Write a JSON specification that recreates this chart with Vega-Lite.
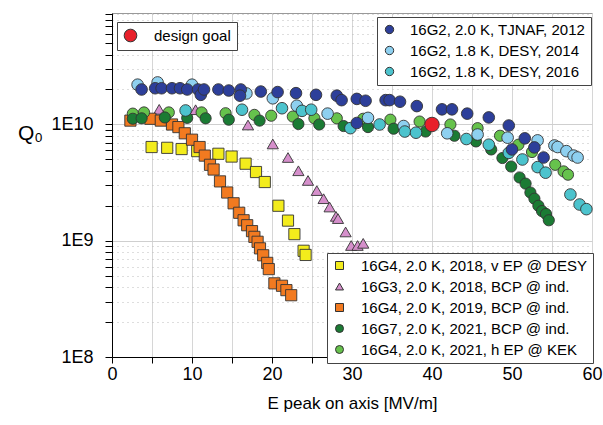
{
  "$schema": "https://vega.github.io/schema/vega-lite/v6.json",
  "width": 480,
  "height": 344,
  "autosize": {"type": "none"},
  "padding": {"left": 112, "top": 13, "right": 11, "bottom": 68},
  "config": {
    "font": "Liberation Sans",
    "view": {"stroke": "#999", "strokeWidth": 1},
    "legend": {"labelLimit": 320}
  },
  "datasets": {
    "goal": [{"s": "design goal", "E": 40, "Q": 10000000000}],
    "groupA": [
      {"s": "16G2, 1.8 K, DESY, 2014", "E": 3.2, "Q": 2.2e10},
      {"s": "16G2, 1.8 K, DESY, 2014", "E": 5.7, "Q": 2.3e10},
      {"s": "16G2, 1.8 K, DESY, 2014", "E": 10.0, "Q": 2.2e10},
      {"s": "16G2, 1.8 K, DESY, 2014", "E": 16.8, "Q": 1.85e10},
      {"s": "16G2, 1.8 K, DESY, 2014", "E": 20.1, "Q": 1.68e10},
      {"s": "16G2, 1.8 K, DESY, 2014", "E": 23.1, "Q": 1.45e10},
      {"s": "16G2, 1.8 K, DESY, 2014", "E": 26.95, "Q": 1.24e10},
      {"s": "16G2, 1.8 K, DESY, 2014", "E": 32.0, "Q": 1.14e10},
      {"s": "16G2, 1.8 K, DESY, 2014", "E": 36.45, "Q": 9.7e9},
      {"s": "16G2, 1.8 K, DESY, 2014", "E": 41.9, "Q": 8.4e9},
      {"s": "16G2, 1.8 K, DESY, 2014", "E": 45.7, "Q": 8.2e9},
      {"s": "16G2, 1.8 K, DESY, 2014", "E": 49.45, "Q": 7.7e9},
      {"s": "16G2, 1.8 K, DESY, 2014", "E": 53.2, "Q": 7.3e9},
      {"s": "16G2, 1.8 K, DESY, 2014", "E": 55.3, "Q": 6.6e9},
      {"s": "16G2, 1.8 K, DESY, 2014", "E": 55.7, "Q": 6.4e9},
      {"s": "16G2, 1.8 K, DESY, 2014", "E": 56.8, "Q": 5.9e9},
      {"s": "16G2, 1.8 K, DESY, 2014", "E": 57.7, "Q": 5.4e9},
      {"s": "16G2, 1.8 K, DESY, 2014", "E": 58.2, "Q": 5.2e9},
      {"s": "16G2, 1.8 K, DESY, 2016", "E": 9.2, "Q": 1.32e10},
      {"s": "16G2, 1.8 K, DESY, 2016", "E": 16.25, "Q": 1.34e10},
      {"s": "16G2, 1.8 K, DESY, 2016", "E": 21.25, "Q": 1.38e10},
      {"s": "16G2, 1.8 K, DESY, 2016", "E": 23.75, "Q": 1.31e10},
      {"s": "16G2, 1.8 K, DESY, 2016", "E": 24.9, "Q": 1.34e10},
      {"s": "16G2, 1.8 K, DESY, 2016", "E": 29.8, "Q": 9.3e9},
      {"s": "16G2, 1.8 K, DESY, 2016", "E": 33.45, "Q": 1.0e10},
      {"s": "16G2, 1.8 K, DESY, 2016", "E": 36.6, "Q": 8.7e9},
      {"s": "16G2, 1.8 K, DESY, 2016", "E": 38.0, "Q": 8.5e9},
      {"s": "16G2, 1.8 K, DESY, 2016", "E": 44.3, "Q": 7.5e9},
      {"s": "16G2, 1.8 K, DESY, 2016", "E": 47.1, "Q": 6.7e9},
      {"s": "16G2, 1.8 K, DESY, 2016", "E": 49.6, "Q": 5.7e9},
      {"s": "16G2, 1.8 K, DESY, 2016", "E": 51.3, "Q": 5.0e9},
      {"s": "16G2, 1.8 K, DESY, 2016", "E": 53.2, "Q": 4.3e9},
      {"s": "16G2, 1.8 K, DESY, 2016", "E": 54.2, "Q": 3.85e9},
      {"s": "16G2, 1.8 K, DESY, 2016", "E": 57.3, "Q": 2.5e9},
      {"s": "16G2, 1.8 K, DESY, 2016", "E": 58.45, "Q": 2.05e9},
      {"s": "16G2, 1.8 K, DESY, 2016", "E": 59.3, "Q": 1.87e9},
      {"s": "16G2, 2.0 K, TJNAF, 2012", "E": 3.7, "Q": 2.0e10},
      {"s": "16G2, 2.0 K, TJNAF, 2012", "E": 5.4, "Q": 2.05e10},
      {"s": "16G2, 2.0 K, TJNAF, 2012", "E": 6.2, "Q": 2.05e10},
      {"s": "16G2, 2.0 K, TJNAF, 2012", "E": 7.5, "Q": 2.05e10},
      {"s": "16G2, 2.0 K, TJNAF, 2012", "E": 8.5, "Q": 2.05e10},
      {"s": "16G2, 2.0 K, TJNAF, 2012", "E": 9.4, "Q": 2.0e10},
      {"s": "16G2, 2.0 K, TJNAF, 2012", "E": 10.75, "Q": 2.0e10},
      {"s": "16G2, 2.0 K, TJNAF, 2012", "E": 11.1, "Q": 1.8e10},
      {"s": "16G2, 2.0 K, TJNAF, 2012", "E": 11.5, "Q": 2.0e10},
      {"s": "16G2, 2.0 K, TJNAF, 2012", "E": 13.3, "Q": 2.0e10},
      {"s": "16G2, 2.0 K, TJNAF, 2012", "E": 14.6, "Q": 1.96e10},
      {"s": "16G2, 2.0 K, TJNAF, 2012", "E": 16.1, "Q": 2.0e10},
      {"s": "16G2, 2.0 K, TJNAF, 2012", "E": 16.0, "Q": 1.77e10},
      {"s": "16G2, 2.0 K, TJNAF, 2012", "E": 18.6, "Q": 1.92e10},
      {"s": "16G2, 2.0 K, TJNAF, 2012", "E": 20.7, "Q": 1.9e10},
      {"s": "16G2, 2.0 K, TJNAF, 2012", "E": 23.0, "Q": 1.86e10},
      {"s": "16G2, 2.0 K, TJNAF, 2012", "E": 25.5, "Q": 1.8e10},
      {"s": "16G2, 2.0 K, TJNAF, 2012", "E": 28.1, "Q": 1.77e10},
      {"s": "16G2, 2.0 K, TJNAF, 2012", "E": 28.7, "Q": 1.62e10},
      {"s": "16G2, 2.0 K, TJNAF, 2012", "E": 30.6, "Q": 1.66e10},
      {"s": "16G2, 2.0 K, TJNAF, 2012", "E": 31.7, "Q": 1.6e10},
      {"s": "16G2, 2.0 K, TJNAF, 2012", "E": 30.6, "Q": 1.03e10},
      {"s": "16G2, 2.0 K, TJNAF, 2012", "E": 34.2, "Q": 1.62e10},
      {"s": "16G2, 2.0 K, TJNAF, 2012", "E": 34.7, "Q": 1.62e10},
      {"s": "16G2, 2.0 K, TJNAF, 2012", "E": 36.0, "Q": 1.57e10},
      {"s": "16G2, 2.0 K, TJNAF, 2012", "E": 38.1, "Q": 1.44e10},
      {"s": "16G2, 2.0 K, TJNAF, 2012", "E": 41.25, "Q": 1.35e10},
      {"s": "16G2, 2.0 K, TJNAF, 2012", "E": 42.5, "Q": 1.35e10},
      {"s": "16G2, 2.0 K, TJNAF, 2012", "E": 44.4, "Q": 1.24e10},
      {"s": "16G2, 2.0 K, TJNAF, 2012", "E": 47.1, "Q": 1.15e10},
      {"s": "16G2, 2.0 K, TJNAF, 2012", "E": 49.6, "Q": 9.8e9},
      {"s": "16G2, 2.0 K, TJNAF, 2012", "E": 51.6, "Q": 7.6e9},
      {"s": "16G2, 2.0 K, TJNAF, 2012", "E": 52.8, "Q": 6.35e9},
      {"s": "16G2, 2.0 K, TJNAF, 2012", "E": 50.0, "Q": 6.1e9},
      {"s": "16G2, 2.0 K, TJNAF, 2012", "E": 53.95, "Q": 5.2e9}
    ],
    "groupB": [
      {"s": "16G4, 2.0 K, 2018, v EP @ DESY", "E": 4.95, "Q": 6.4e9},
      {"s": "16G4, 2.0 K, 2018, v EP @ DESY", "E": 6.9, "Q": 6.3e9},
      {"s": "16G4, 2.0 K, 2018, v EP @ DESY", "E": 8.7, "Q": 6.15e9},
      {"s": "16G4, 2.0 K, 2018, v EP @ DESY", "E": 10.65, "Q": 5.9e9},
      {"s": "16G4, 2.0 K, 2018, v EP @ DESY", "E": 13.3, "Q": 5.6e9},
      {"s": "16G4, 2.0 K, 2018, v EP @ DESY", "E": 14.95, "Q": 5.3e9},
      {"s": "16G4, 2.0 K, 2018, v EP @ DESY", "E": 16.7, "Q": 4.6e9},
      {"s": "16G4, 2.0 K, 2018, v EP @ DESY", "E": 18.0, "Q": 3.9e9},
      {"s": "16G4, 2.0 K, 2018, v EP @ DESY", "E": 19.1, "Q": 3.2e9},
      {"s": "16G4, 2.0 K, 2018, v EP @ DESY", "E": 20.8, "Q": 2.0e9},
      {"s": "16G4, 2.0 K, 2018, v EP @ DESY", "E": 22.0, "Q": 1.49e9},
      {"s": "16G4, 2.0 K, 2018, v EP @ DESY", "E": 22.8, "Q": 1.14e9},
      {"s": "16G4, 2.0 K, 2018, v EP @ DESY", "E": 23.95, "Q": 8.2e8},
      {"s": "16G4, 2.0 K, 2018, v EP @ DESY", "E": 24.2, "Q": 7.55e8},
      {"s": "16G3, 2.0 K, 2018, BCP @ ind.", "E": 5.9, "Q": 1.35e10},
      {"s": "16G3, 2.0 K, 2018, BCP @ ind.", "E": 10.45, "Q": 1.34e10},
      {"s": "16G3, 2.0 K, 2018, BCP @ ind.", "E": 17.0, "Q": 9.9e9},
      {"s": "16G3, 2.0 K, 2018, BCP @ ind.", "E": 20.1, "Q": 6.8e9},
      {"s": "16G3, 2.0 K, 2018, BCP @ ind.", "E": 22.0, "Q": 5.2e9},
      {"s": "16G3, 2.0 K, 2018, BCP @ ind.", "E": 23.3, "Q": 4.0e9},
      {"s": "16G3, 2.0 K, 2018, BCP @ ind.", "E": 24.5, "Q": 3.3e9},
      {"s": "16G3, 2.0 K, 2018, BCP @ ind.", "E": 25.6, "Q": 2.7e9},
      {"s": "16G3, 2.0 K, 2018, BCP @ ind.", "E": 26.45, "Q": 2.3e9},
      {"s": "16G3, 2.0 K, 2018, BCP @ ind.", "E": 27.2, "Q": 1.95e9},
      {"s": "16G3, 2.0 K, 2018, BCP @ ind.", "E": 28.0, "Q": 1.62e9},
      {"s": "16G3, 2.0 K, 2018, BCP @ ind.", "E": 28.25, "Q": 1.55e9},
      {"s": "16G3, 2.0 K, 2018, BCP @ ind.", "E": 29.2, "Q": 1.19e9},
      {"s": "16G3, 2.0 K, 2018, BCP @ ind.", "E": 29.9, "Q": 9.1e8},
      {"s": "16G3, 2.0 K, 2018, BCP @ ind.", "E": 30.7, "Q": 9.1e8},
      {"s": "16G3, 2.0 K, 2018, BCP @ ind.", "E": 31.4, "Q": 9.5e8},
      {"s": "16G4, 2.0 K, 2019, BCP @ ind.", "E": 2.3, "Q": 1.08e10},
      {"s": "16G4, 2.0 K, 2019, BCP @ ind.", "E": 4.8, "Q": 1.12e10},
      {"s": "16G4, 2.0 K, 2019, BCP @ ind.", "E": 6.1, "Q": 1.08e10},
      {"s": "16G4, 2.0 K, 2019, BCP @ ind.", "E": 7.5, "Q": 1.0e10},
      {"s": "16G4, 2.0 K, 2019, BCP @ ind.", "E": 8.3, "Q": 9.5e9},
      {"s": "16G4, 2.0 K, 2019, BCP @ ind.", "E": 9.1, "Q": 8.4e9},
      {"s": "16G4, 2.0 K, 2019, BCP @ ind.", "E": 10.0, "Q": 7.4e9},
      {"s": "16G4, 2.0 K, 2019, BCP @ ind.", "E": 10.95, "Q": 6.4e9},
      {"s": "16G4, 2.0 K, 2019, BCP @ ind.", "E": 11.6, "Q": 5.4e9},
      {"s": "16G4, 2.0 K, 2019, BCP @ ind.", "E": 12.25, "Q": 4.5e9},
      {"s": "16G4, 2.0 K, 2019, BCP @ ind.", "E": 12.7, "Q": 4.1e9},
      {"s": "16G4, 2.0 K, 2019, BCP @ ind.", "E": 13.5, "Q": 3.24e9},
      {"s": "16G4, 2.0 K, 2019, BCP @ ind.", "E": 14.4, "Q": 2.6e9},
      {"s": "16G4, 2.0 K, 2019, BCP @ ind.", "E": 15.2, "Q": 2.1e9},
      {"s": "16G4, 2.0 K, 2019, BCP @ ind.", "E": 15.9, "Q": 1.74e9},
      {"s": "16G4, 2.0 K, 2019, BCP @ ind.", "E": 16.45, "Q": 1.5e9},
      {"s": "16G4, 2.0 K, 2019, BCP @ ind.", "E": 16.9, "Q": 1.36e9},
      {"s": "16G4, 2.0 K, 2019, BCP @ ind.", "E": 17.5, "Q": 1.21e9},
      {"s": "16G4, 2.0 K, 2019, BCP @ ind.", "E": 17.8, "Q": 1.08e9},
      {"s": "16G4, 2.0 K, 2019, BCP @ ind.", "E": 18.2, "Q": 9.8e8},
      {"s": "16G4, 2.0 K, 2019, BCP @ ind.", "E": 18.5, "Q": 8.6e8},
      {"s": "16G4, 2.0 K, 2019, BCP @ ind.", "E": 18.9, "Q": 7.5e8},
      {"s": "16G4, 2.0 K, 2019, BCP @ ind.", "E": 19.4, "Q": 6.45e8},
      {"s": "16G4, 2.0 K, 2019, BCP @ ind.", "E": 19.6, "Q": 5.7e8},
      {"s": "16G4, 2.0 K, 2019, BCP @ ind.", "E": 20.3, "Q": 4.3e8},
      {"s": "16G4, 2.0 K, 2019, BCP @ ind.", "E": 21.25, "Q": 4.1e8},
      {"s": "16G4, 2.0 K, 2019, BCP @ ind.", "E": 21.8, "Q": 3.76e8},
      {"s": "16G4, 2.0 K, 2019, BCP @ ind.", "E": 22.4, "Q": 3.4e8},
      {"s": "16G4, 2.0 K, 2021, h EP @ KEK", "E": 2.6, "Q": 1.24e10},
      {"s": "16G4, 2.0 K, 2021, h EP @ KEK", "E": 4.0, "Q": 1.27e10},
      {"s": "16G4, 2.0 K, 2021, h EP @ KEK", "E": 7.1, "Q": 1.27e10},
      {"s": "16G4, 2.0 K, 2021, h EP @ KEK", "E": 11.2, "Q": 1.27e10},
      {"s": "16G4, 2.0 K, 2021, h EP @ KEK", "E": 14.2, "Q": 1.25e10},
      {"s": "16G4, 2.0 K, 2021, h EP @ KEK", "E": 17.8, "Q": 1.21e10},
      {"s": "16G4, 2.0 K, 2021, h EP @ KEK", "E": 19.9, "Q": 1.19e10},
      {"s": "16G4, 2.0 K, 2021, h EP @ KEK", "E": 22.6, "Q": 1.17e10},
      {"s": "16G4, 2.0 K, 2021, h EP @ KEK", "E": 25.3, "Q": 1.13e10},
      {"s": "16G4, 2.0 K, 2021, h EP @ KEK", "E": 28.1, "Q": 1.13e10},
      {"s": "16G4, 2.0 K, 2021, h EP @ KEK", "E": 31.4, "Q": 1.12e10},
      {"s": "16G4, 2.0 K, 2021, h EP @ KEK", "E": 34.8, "Q": 1.1e10},
      {"s": "16G4, 2.0 K, 2021, h EP @ KEK", "E": 38.45, "Q": 1.06e10},
      {"s": "16G4, 2.0 K, 2021, h EP @ KEK", "E": 42.3, "Q": 1.0e10},
      {"s": "16G4, 2.0 K, 2021, h EP @ KEK", "E": 45.7, "Q": 9.3e9},
      {"s": "16G4, 2.0 K, 2021, h EP @ KEK", "E": 48.5, "Q": 8.0e9},
      {"s": "16G4, 2.0 K, 2021, h EP @ KEK", "E": 50.8, "Q": 6.7e9},
      {"s": "16G4, 2.0 K, 2021, h EP @ KEK", "E": 52.5, "Q": 5.8e9},
      {"s": "16G4, 2.0 K, 2021, h EP @ KEK", "E": 55.4, "Q": 4.5e9},
      {"s": "16G4, 2.0 K, 2021, h EP @ KEK", "E": 56.45, "Q": 3.95e9},
      {"s": "16G4, 2.0 K, 2021, h EP @ KEK", "E": 57.0, "Q": 3.7e9},
      {"s": "16G7, 2.0 K, 2021, BCP @ ind.", "E": 2.6, "Q": 1.12e10},
      {"s": "16G7, 2.0 K, 2021, BCP @ ind.", "E": 3.7, "Q": 1.13e10},
      {"s": "16G7, 2.0 K, 2021, BCP @ ind.", "E": 6.6, "Q": 1.15e10},
      {"s": "16G7, 2.0 K, 2021, BCP @ ind.", "E": 9.4, "Q": 1.14e10},
      {"s": "16G7, 2.0 K, 2021, BCP @ ind.", "E": 11.7, "Q": 1.13e10},
      {"s": "16G7, 2.0 K, 2021, BCP @ ind.", "E": 14.6, "Q": 1.1e10},
      {"s": "16G7, 2.0 K, 2021, BCP @ ind.", "E": 18.45, "Q": 1.08e10},
      {"s": "16G7, 2.0 K, 2021, BCP @ ind.", "E": 23.3, "Q": 1.01e10},
      {"s": "16G7, 2.0 K, 2021, BCP @ ind.", "E": 25.9, "Q": 1.0e10},
      {"s": "16G7, 2.0 K, 2021, BCP @ ind.", "E": 28.95, "Q": 9.7e9},
      {"s": "16G7, 2.0 K, 2021, BCP @ ind.", "E": 32.0, "Q": 9.5e9},
      {"s": "16G7, 2.0 K, 2021, BCP @ ind.", "E": 35.2, "Q": 9.2e9},
      {"s": "16G7, 2.0 K, 2021, BCP @ ind.", "E": 39.2, "Q": 8.7e9},
      {"s": "16G7, 2.0 K, 2021, BCP @ ind.", "E": 42.8, "Q": 8.0e9},
      {"s": "16G7, 2.0 K, 2021, BCP @ ind.", "E": 45.5, "Q": 7.15e9},
      {"s": "16G7, 2.0 K, 2021, BCP @ ind.", "E": 47.4, "Q": 6.1e9},
      {"s": "16G7, 2.0 K, 2021, BCP @ ind.", "E": 48.8, "Q": 5.15e9},
      {"s": "16G7, 2.0 K, 2021, BCP @ ind.", "E": 49.9, "Q": 4.35e9},
      {"s": "16G7, 2.0 K, 2021, BCP @ ind.", "E": 50.95, "Q": 3.5e9},
      {"s": "16G7, 2.0 K, 2021, BCP @ ind.", "E": 51.7, "Q": 3.1e9},
      {"s": "16G7, 2.0 K, 2021, BCP @ ind.", "E": 52.3, "Q": 2.6e9},
      {"s": "16G7, 2.0 K, 2021, BCP @ ind.", "E": 52.8, "Q": 2.3e9},
      {"s": "16G7, 2.0 K, 2021, BCP @ ind.", "E": 53.3, "Q": 2.0e9},
      {"s": "16G7, 2.0 K, 2021, BCP @ ind.", "E": 53.75, "Q": 1.8e9},
      {"s": "16G7, 2.0 K, 2021, BCP @ ind.", "E": 54.25, "Q": 1.7e9},
      {"s": "16G7, 2.0 K, 2021, BCP @ ind.", "E": 54.6, "Q": 1.5e9}
    ]
  },
  "encoding": {
    "x": {
      "field": "E",
      "type": "quantitative",
      "scale": {"domain": [0, 60], "nice": false, "zero": false},
      "axis": {
        "title": "E peak on axis [MV/m]",
        "values": [0, 5, 10, 15, 20, 25, 30, 35, 40, 45, 50, 55, 60],
        "labelExpr": "datum.value % 10 === 0 ? datum.label : ''",
        "grid": true,
        "gridColor": "#d6d6d6",
        "gridWidth": 1,
        "domainColor": "#000",
        "tickColor": "#000",
        "tickSize": 6,
        "labelFontSize": 18,
        "labelColor": "#000",
        "labelPadding": 2,
        "labelFlush": false,
        "titleFontSize": 17,
        "titleColor": "#000",
        "titleFontWeight": "normal",
        "titlePadding": 12
      }
    },
    "y": {
      "field": "Q",
      "type": "quantitative",
      "scale": {"type": "log", "domain": [100000000, 91000000000], "nice": false},
      "axis": {
        "title": "Q₀",
        "values": [100000000, 200000000, 300000000, 400000000, 500000000, 600000000, 700000000, 800000000, 900000000, 1000000000, 2000000000, 3000000000, 4000000000, 5000000000, 6000000000, 7000000000, 8000000000, 9000000000, 10000000000, 20000000000, 30000000000, 40000000000, 50000000000, 60000000000, 70000000000, 80000000000, 90000000000],
        "labelExpr": "datum.value === 100000000 ? '1E8' : datum.value === 1000000000 ? '1E9' : datum.value === 10000000000 ? '1E10' : ''",
        "grid": true,
        "gridColor": {"condition": {"test": "datum.value === 100000000 || datum.value === 1000000000 || datum.value === 10000000000", "value": "#cfcfcf"}, "value": "#bdbdbd"},
        "gridDash": {"condition": {"test": "datum.value === 100000000 || datum.value === 1000000000 || datum.value === 10000000000", "value": []}, "value": [1, 4]},
        "domainColor": "#000",
        "tickColor": "#000",
        "tickSize": 7,
        "labelFontSize": 18,
        "labelColor": "#000",
        "labelPadding": 12,
        "labelFlush": false,
        "titleAngle": 0,
        "titleX": -82,
        "titleY": 120,
        "titleAlign": "center",
        "titleBaseline": "middle",
        "titleFontSize": 21,
        "titleColor": "#000",
        "titleFontWeight": "normal"
      }
    }
  },
  "layer": [
    {
      "data": {"name": "groupB"},
      "mark": {"type": "point", "filled": true, "size": 125, "stroke": "#333", "strokeWidth": 0.9, "opacity": 1},
      "encoding": {
        "color": {
          "field": "s",
          "type": "nominal",
          "scale": {
            "domain": ["16G4, 2.0 K, 2018, v EP @ DESY", "16G3, 2.0 K, 2018, BCP @ ind.", "16G4, 2.0 K, 2019, BCP @ ind.", "16G7, 2.0 K, 2021, BCP @ ind.", "16G4, 2.0 K, 2021, h EP @ KEK"],
            "range": ["#f3ec1c", "#d58fcb", "#f27a20", "#1b7b34", "#66c24c"]
          },
          "legend": {"orient": "none", "legendX": 215, "legendY": 240, "title": null, "labelFontSize": 15, "labelColor": "#000", "symbolSize": 64, "symbolStrokeColor": "#333", "symbolStrokeWidth": 1, "padding": 5, "rowPadding": 5, "labelOffset": 14, "strokeColor": "#444", "fillColor": "#ffffff", "labelLimit": 320}
        },
        "shape": {
          "field": "s",
          "type": "nominal",
          "scale": {
            "domain": ["16G4, 2.0 K, 2018, v EP @ DESY", "16G3, 2.0 K, 2018, BCP @ ind.", "16G4, 2.0 K, 2019, BCP @ ind.", "16G7, 2.0 K, 2021, BCP @ ind.", "16G4, 2.0 K, 2021, h EP @ KEK"],
            "range": ["square", "triangle-up", "square", "circle", "circle"]
          },
          "legend": {"orient": "none", "legendX": 215, "legendY": 240, "title": null, "labelFontSize": 15, "labelColor": "#000", "symbolSize": 64, "symbolStrokeColor": "#333", "symbolStrokeWidth": 1, "padding": 5, "rowPadding": 5, "labelOffset": 14, "strokeColor": "#444", "fillColor": "#ffffff", "labelLimit": 320}
        }
      }
    },
    {
      "data": {"name": "groupA"},
      "mark": {"type": "point", "filled": true, "shape": "circle", "size": 135, "stroke": "#333", "strokeWidth": 0.9, "opacity": 1},
      "encoding": {
        "color": {
          "field": "s",
          "type": "nominal",
          "sort": null,
          "scale": {
            "domain": ["16G2, 2.0 K, TJNAF, 2012", "16G2, 1.8 K, DESY, 2014", "16G2, 1.8 K, DESY, 2016"],
            "range": ["#2d3f9a", "#8ed0f0", "#4cc3cd"]
          },
          "legend": {"orient": "none", "legendX": 265, "legendY": 4, "title": null, "labelFontSize": 15, "labelColor": "#000", "symbolType": "circle", "symbolSize": 70, "symbolStrokeColor": "#333", "symbolStrokeWidth": 1, "padding": 5, "rowPadding": 5, "labelOffset": 13, "strokeColor": "#444", "fillColor": "#ffffff", "labelLimit": 320}
        }
      }
    },
    {
      "data": {"name": "goal"},
      "mark": {"type": "point", "filled": true, "shape": "circle", "size": 210, "stroke": "#333", "strokeWidth": 0.9, "opacity": 1},
      "encoding": {
        "color": {
          "field": "s",
          "type": "nominal",
          "scale": {"domain": ["design goal"], "range": ["#e8202a"]},
          "legend": {"orient": "none", "legendX": 5, "legendY": 9, "title": null, "labelFontSize": 15, "labelColor": "#000", "symbolType": "circle", "symbolSize": 160, "symbolStrokeColor": "#333", "symbolStrokeWidth": 1, "padding": 6, "labelOffset": 16, "strokeColor": "#444", "fillColor": "#ffffff", "labelExpr": "datum.label + '      '"}
        }
      }
    }
  ],
  "resolve": {"scale": {"color": "independent", "shape": "independent"}}
}
